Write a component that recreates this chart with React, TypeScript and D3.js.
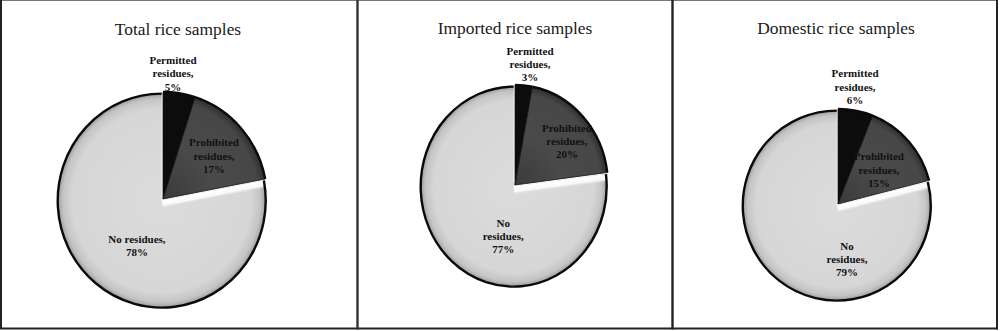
import React from "react";
import * as d3 from "d3";

// ---- data ----
const PANEL_TITLES = ["Total rice samples", "Imported rice samples", "Domestic rice samples"];
const CATEGORIES = ["Permitted residues", "Prohibited residues", "No residues"];
const TOTAL_VALUES = [5, 17, 78];
const IMPORTED_VALUES = [3, 20, 77];
const DOMESTIC_VALUES = [6, 15, 79];
const PANEL_VALUES = [TOTAL_VALUES, IMPORTED_VALUES, DOMESTIC_VALUES];

// ---- layout / style ----
const W = 1000;
const H = 331;
const LAYOUT = [
  { x0: 0, x1: 357, cx: 163, cy: 199, rx: 104, ry: 107, titleX: 178, titleY: 35,
    labels: [[4.7, 1.177], [50.6, 0.634], [209.7, 0.505]], wrapNo: false },
  { x0: 357, x1: 672, cx: 515, cy: 185, rx: 93, ry: 100, titleX: 515, titleY: 34,
    labels: [[7.6, 1.22], [51.8, 0.71], [194, 0.526]], wrapNo: true },
  { x0: 672, x1: 997, cx: 838, cy: 204, rx: 94, ry: 95, titleX: 836, titleY: 34,
    labels: [[8.4, 1.245], [50.6, 0.564], [170.6, 0.587]], wrapNo: true },
];
const SERIF = "'Liberation Serif', 'Times New Roman', Times, serif";

function labelLines(cat: string, v: number, wrapNo: boolean): string[] {
  const words = cat.split(" ");
  if (cat === "No residues" && !wrapNo) return [cat + ",", v + "%"];
  return [...words.slice(0, -1), words[words.length - 1] + ",", v + "%"];
}

function Labels({ arcs, L, outside }: { arcs: d3.PieArcDatum<number>[]; L: any; outside: boolean }) {
  return (
    <g>
      {arcs.map((a, i) => {
        const [angDeg, f] = L.labels[i];
        if ((f > 1) !== outside) return null;
        const ang = (angDeg * Math.PI) / 180;
        const x = L.cx + f * L.rx * Math.sin(ang);
        const y = L.cy - f * L.ry * Math.cos(ang);
        const lines = labelLines(CATEGORIES[i], a.data, L.wrapNo);
        const lh = 13.3;
        const y0 = y - ((lines.length - 1) / 2) * lh + 3.8;
        return (
          <text key={"l" + i} x={x} y={y0} textAnchor="middle" fontFamily={SERIF}
            fontWeight="bold" fontSize={11} fill="#111">
            {lines.map((ln, j) => (
              <tspan key={j} x={x} y={y0 + j * lh}>{ln}</tspan>
            ))}
          </text>
        );
      })}
    </g>
  );
}

function Pie({ values, L, idx }: { values: number[]; L: any; idx: number }) {
  const pie = d3.pie<number>().sort(null).value((d) => d).startAngle(0).endAngle(2 * Math.PI);
  const arcs = pie(values);
  const arc = d3.arc<d3.PieArcDatum<number>>().innerRadius(0).outerRadius(L.rx);
  const rim = d3.arc<d3.PieArcDatum<number>>().innerRadius(L.rx).outerRadius(L.rx);
  const sy = L.ry / L.rx;
  const explode = 2;
  const light = arcs[2];
  const lmid = (light.startAngle + light.endAngle) / 2;
  const ex = Math.sin(lmid) * explode;
  const ey = -Math.cos(lmid) * explode;
  // bevel band along the start edge of the light slice
  const a0 = light.startAngle;
  const bw = 8;
  const nx = Math.cos(a0), ny = Math.sin(a0);
  const rimX = L.rx * Math.sin(a0), rimY = -L.rx * Math.cos(a0);
  const band = `M0,0 L${rimX},${rimY} L${rimX + nx * bw},${rimY + ny * bw} L${nx * bw},${ny * bw} Z`;
  const clipId = `clipLight${idx}`;
  const bandGradId = `band${idx}`;
  return (
    <g>
      <Labels arcs={arcs} L={L} outside={true} />
      <g transform={`translate(${L.cx},${L.cy}) scale(1,${sy})`}>
        <defs>
          <clipPath id={clipId}>
            <path d={arc(light) as string} />
          </clipPath>
          <linearGradient id={bandGradId} gradientUnits="userSpaceOnUse"
            x1={0} y1={0} x2={nx * bw} y2={ny * bw}>
            <stop offset="0" stopColor="#ffffff" stopOpacity="1" />
            <stop offset="0.6" stopColor="#fafafa" stopOpacity="0.95" />
            <stop offset="1" stopColor="#d8d8d8" stopOpacity="0" />
          </linearGradient>
          <radialGradient id={`rg${idx}`} gradientUnits="userSpaceOnUse" cx={0} cy={0} r={L.rx}>
            <stop offset="0" stopColor="#dcdcdc" />
            <stop offset="0.86" stopColor="#d6d6d6" />
            <stop offset="0.95" stopColor="#c4c4c4" />
            <stop offset="1" stopColor="#9c9c9c" />
          </radialGradient>
          <radialGradient id={`rgp${idx}`} gradientUnits="userSpaceOnUse" cx={0} cy={0} r={L.rx}>
            <stop offset="0" stopColor="#3a3a3a" />
            <stop offset="0.5" stopColor="#4a4a4a" />
            <stop offset="0.92" stopColor="#474747" />
            <stop offset="1" stopColor="#2e2e2e" />
          </radialGradient>
        </defs>
        {arcs.map((a, i) => {
          const isLight = i === 2;
          const fill = i === 0 ? "#0c0c0c" : i === 1 ? `url(#rgp${idx})` : `url(#rg${idx})`;
          return (
            <g key={i} transform={isLight ? `translate(${ex},${ey})` : undefined}>
              <path d={arc(a) as string} fill={fill}
                stroke={isLight ? "none" : "#111"} strokeWidth={0.8}
                vectorEffect="non-scaling-stroke" />
              {isLight && (
                <path d={band} fill={`url(#${bandGradId})`} clipPath={`url(#${clipId})`} />
              )}
              <path d={rim(a) as string} fill="none" stroke="#0a0a0a" strokeWidth={2.4}
                vectorEffect="non-scaling-stroke" />
            </g>
          );
        })}
      </g>
      <Labels arcs={arcs} L={L} outside={false} />
    </g>
  );
}

export default function App() {
  return (
    <svg width={W} height={H} viewBox={`0 0 ${W} ${H}`}
      style={{ position: "absolute", left: 0, top: 0, display: "block", background: "#fff" }}>
      <rect x={0} y={0} width={W} height={H} fill="#fff" />
      {LAYOUT.map((L, i) => (
        <g key={i}>
          <text x={L.titleX} y={L.titleY} textAnchor="middle" fontFamily={SERIF}
            fontSize={17.4} fill="#1a1a1a">{PANEL_TITLES[i]}</text>
          <Pie values={PANEL_VALUES[i]} L={L} idx={i} />
        </g>
      ))}
      {/* frames */}
      <line x1={0} y1={0.5} x2={997} y2={0.5} stroke="#777" strokeWidth={1} />
      <line x1={1} y1={0} x2={1} y2={329} stroke="#222" strokeWidth={2} />
      <line x1={0} y1={328.5} x2={998} y2={328.5} stroke="#222" strokeWidth={2} />
      <line x1={357.5} y1={0} x2={357.5} y2={329.5} stroke="#333" strokeWidth={2.4} />
      <line x1={672.5} y1={0} x2={672.5} y2={329.5} stroke="#222" strokeWidth={2.4} />
      <line x1={997} y1={0} x2={997} y2={329.5} stroke="#222" strokeWidth={2} />
    </svg>
  );
}
